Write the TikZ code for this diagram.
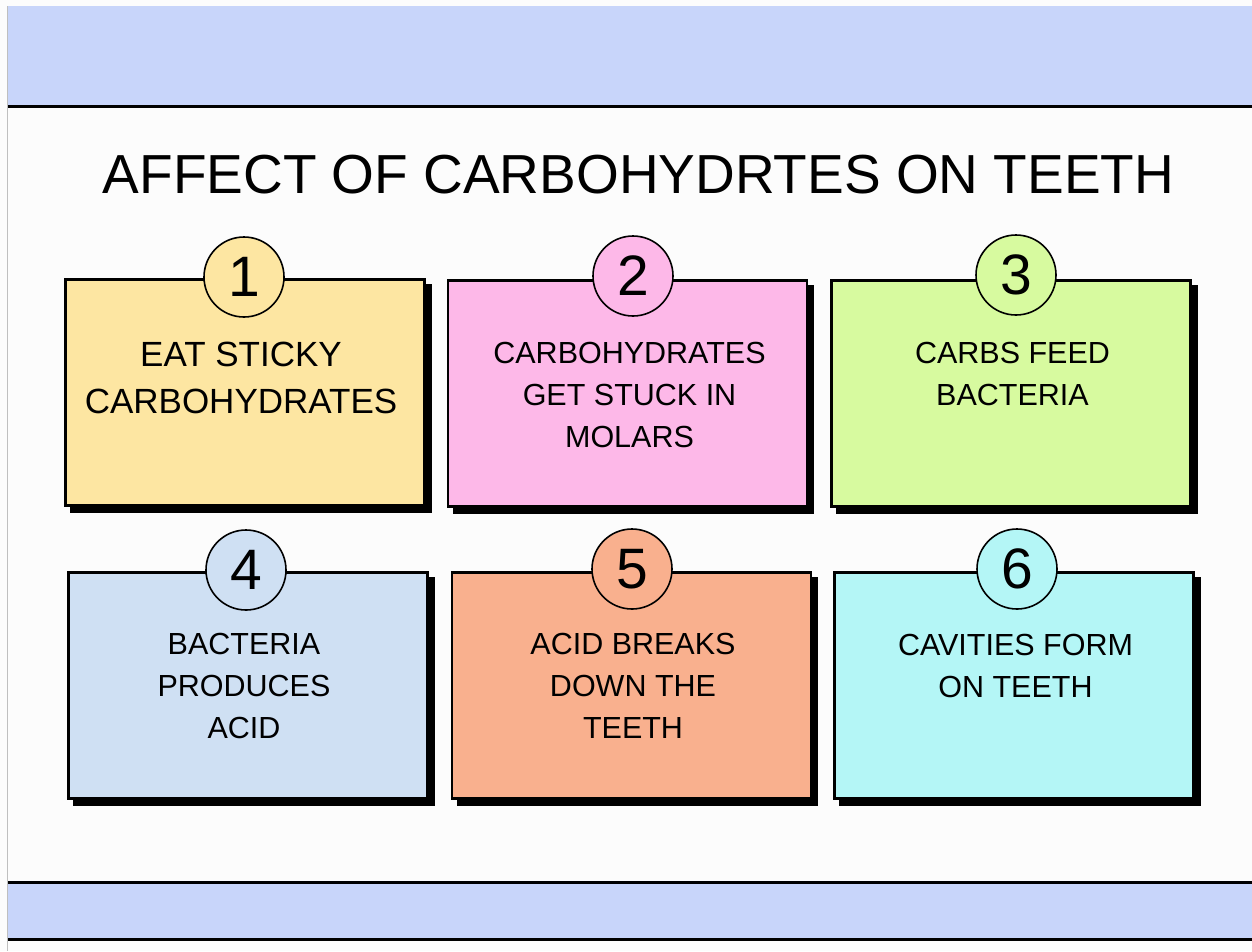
\documentclass[tikz,border=0pt]{standalone}
\usepackage{fontspec}
\setmainfont{Liberation Sans}
\usetikzlibrary{backgrounds}
\definecolor{bandc}{HTML}{C8D5FA}
\definecolor{cA}{HTML}{FDE6A2}
\definecolor{cB}{HTML}{FDB8E8}
\definecolor{cC}{HTML}{D7FA9F}
\definecolor{cD}{HTML}{CFE0F3}
\definecolor{cE}{HTML}{F9B08E}
\definecolor{cF}{HTML}{B4F6F6}
\tikzset{
  card/.style={draw=black, line width=2.6pt, fill=#1, rectangle, inner sep=0pt,
    minimum width=359pt, minimum height=226pt},
  badge/.style={draw=black, line width=1.6pt, fill=#1, circle, inner sep=0pt,
    minimum size=80pt, font=\fontsize{57}{60}\selectfont},
  cardtext/.style={anchor=north, inner sep=0pt, align=center,
    font=\fontsize{30.5}{42}\selectfont},
  bigtext/.style={anchor=north, inner sep=0pt, align=center,
    font=\fontsize{35}{47}\selectfont},
  rule/.style={line width=3pt, black}
}
\newcommand{\shadowof}[1]{%
  \begin{scope}[on background layer]
    \fill[black] ([shift={(6,6)}]#1.north west) rectangle ([shift={(6,6)}]#1.south east);
  \end{scope}}
\begin{document}
\begin{tikzpicture}[x=1pt,y=-1pt]
  \useasboundingbox (0,0) rectangle (1252,951);
  \begin{scope}[on background layer]
    \fill[white!99!black] (0,0) rectangle (1252,951);
  \end{scope}
  % bands
  \fill[bandc] (7,6) rectangle (1252,105);
  \draw[rule] (7,106.5) -- (1252,106.5);
  \fill[bandc] (7,884) rectangle (1252,938);
  \draw[rule] (7,882.5) -- (1252,882.5);
  \draw[rule] (7,939.5) -- (1252,939.5);
  \draw[black!25, line width=1pt] (7,6) -- (7,951);
  % title
  \node[anchor=base, inner sep=0pt, font=\fontsize{55}{60}\selectfont] (title) at (638.5,193) {AFFECT OF CARBOHYDRTES ON TEETH};
  % cards
  \node[card=cA] (b1) at (245,392.5) {};
  \node[card=cB] (b2) at (627.5,393.5) {};
  \node[card=cC] (b3) at (1011,393.5) {};
  \node[card=cD] (b4) at (248,685.5) {};
  \node[card=cE] (b5) at (631.5,685.5) {};
  \node[card=cF] (b6) at (1014,685.5) {};
  \shadowof{b1}\shadowof{b2}\shadowof{b3}\shadowof{b4}\shadowof{b5}\shadowof{b6}
  % badges
  \node[badge=cA] (n1) at (244,277) {1};
  \node[badge=cB] (n2) at (633,276) {2};
  \node[badge=cC] (n3) at (1016,275) {3};
  \node[badge=cD] (n4) at (246,570) {4};
  \node[badge=cE] (n5) at (632,569) {5};
  \node[badge=cF] (n6) at (1017,569) {6};
  % texts
  \node[bigtext] (t1) at (241,342) {EAT STICKY\\CARBOHYDRATES};
  \node[cardtext] (t2) at (629.5,342) {CARBOHYDRATES\\GET STUCK IN\\MOLARS};
  \node[cardtext] (t3) at (1012.5,342) {CARBS FEED\\BACTERIA};
  \node[cardtext] (t4) at (244,633) {BACTERIA\\PRODUCES\\ACID};
  \node[cardtext] (t5) at (633,633) {ACID BREAKS\\DOWN THE\\TEETH};
  \node[cardtext] (t6) at (1015.5,634) {CAVITIES FORM\\ON TEETH};
\end{tikzpicture}
\end{document}
